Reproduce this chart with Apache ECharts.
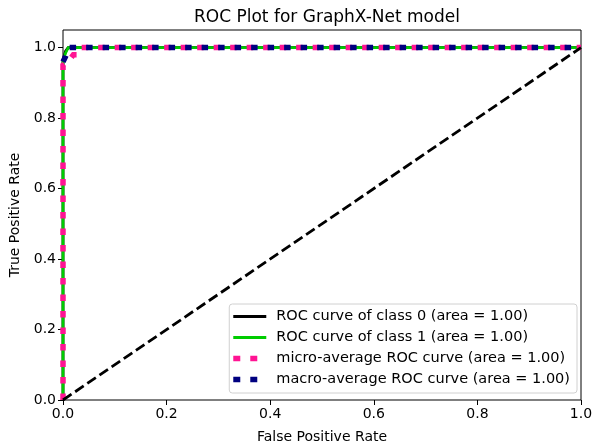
<!DOCTYPE html>
<html><head><meta charset="utf-8">
<script src="https://cdn.jsdelivr.net/npm/echarts@6/dist/echarts.min.js"></script>
<style>html,body{margin:0;padding:0;background:#fff}#c{width:596px;height:444px}</style>
</head><body><div id="c"></div>
<script>
const xTicks = [0, 0.2, 0.4, 0.6, 0.8, 1.0];
const yTicks = [0, 0.2, 0.4, 0.6, 0.8, 1.0];
const class0Fpr = [0, 0, 0.005, 0.01, 1];
const class0Tpr = [0, 0.965, 0.99, 1.0, 1.0];
const class1Fpr = [0, 0, 0.005, 0.01, 1];
const class1Tpr = [0, 0.96, 0.985, 1.0, 1.0];
const microFpr = [0, 0, 0.01, 0.02, 0.03, 0.035, 1];
const microTpr = [0, 0.95, 0.96, 0.98, 0.98, 1.0, 1.0];
const macroFpr = [0, 0.005, 0.01, 1];
const macroTpr = [0.96, 0.975, 1.0, 1.0];
const diagX = [0, 1];
const diagY = [0, 1];
const names = ['ROC curve of class 0 (area = 1.00)', 'ROC curve of class 1 (area = 1.00)',
  'micro-average ROC curve (area = 1.00)', 'macro-average ROC curve (area = 1.00)'];

const zip = (a, b) => a.map((v, i) => [v, b[i]]);
const font = 'DejaVu Sans';
const corners = 'M0,0h0.01v0.01h-0.01zM33,14h-0.01v-0.01h0.01z';
const solidIcon = 'path://' + corners + 'M0,5.6h33v2.8h-33z';
const dotIcon = 'path://' + corners + 'M0,4.2h7v5.6h-7zM17,4.2h7v5.6h-7z';
const chart = echarts.init(document.getElementById('c'), null, {renderer: 'canvas'});
function lineSeries(name, x, y, color, width, type) {
  return {name, type: 'line', data: zip(x, y), symbol: 'none', showSymbol: false, smooth: false,
    lineStyle: {color, width, type, cap: 'butt', join: 'miter'}, itemStyle: {color},
    animation: false, silent: true, clip: true};
}
chart.setOption({
  animation: false,
  title: {text: 'ROC Plot for GraphX-Net model', left: 322, top: 4, textAlign: 'center',
    textStyle: {fontFamily: font, fontSize: 17, fontWeight: 'normal', color: '#000'}},
  grid: {left: 63, right: 15, top: 30, bottom: 44, show: true, borderColor: '#000', borderWidth: 1,
    backgroundColor: 'transparent', outerBoundsMode: 'none', containLabel: false},
  xAxis: {type: 'value', min: 0, max: 1, interval: 0.2,
    name: 'False Positive Rate', nameLocation: 'middle', nameGap: 30,
    nameTextStyle: {fontFamily: font, fontSize: 14, color: '#000'},
    axisLine: {show: false}, splitLine: {show: false},
    axisTick: {show: true, length: 5, lineStyle: {color: '#000', width: 1}, customValues: xTicks},
    axisLabel: {fontFamily: font, fontSize: 14, color: '#000', margin: 7, customValues: xTicks, formatter: v => v.toFixed(1)}},
  yAxis: {type: 'value', min: 0, max: 1.05,
    name: 'True Positive Rate', nameLocation: 'middle', nameGap: 39,
    nameTextStyle: {fontFamily: font, fontSize: 14, color: '#000'},
    axisLine: {show: false}, splitLine: {show: false},
    axisTick: {show: true, length: 5, lineStyle: {color: '#000', width: 1}, customValues: yTicks},
    axisLabel: {fontFamily: font, fontSize: 14, color: '#000', margin: 7, customValues: yTicks, formatter: v => v.toFixed(1)}},
  legend: {data: [
      {name: names[0], icon: solidIcon}, {name: names[1], icon: solidIcon},
      {name: names[2], icon: dotIcon}, {name: names[3], icon: dotIcon}],
    orient: 'vertical', right: 19, bottom: 51, itemWidth: 33, itemHeight: 14, itemGap: 6,
    padding: [5, 7, 6, 4], backgroundColor: 'rgba(255,255,255,0.8)', borderColor: '#d0d0d0', borderWidth: 1, borderRadius: 3,
    align: 'left', selectedMode: false, symbolKeepAspect: false,
    textStyle: {fontFamily: font, fontSize: 14.5, color: '#000', padding: [0, 0, 0, 5]}},
  series: [
    lineSeries(names[0], class0Fpr, class0Tpr, '#000000', 2.8, 'solid'),
    lineSeries(names[1], class1Fpr, class1Tpr, '#00cc00', 2.8, 'solid'),
    lineSeries(names[2], microFpr, microTpr, '#ff1493', 5.5, [6.5, 10]),
    lineSeries(names[3], macroFpr, macroTpr, '#000080', 5.5, [6.5, 10]),
    lineSeries('diag', diagX, diagY, '#000000', 2.8, [10.3, 4.4])
  ]
});
</script></body></html>
